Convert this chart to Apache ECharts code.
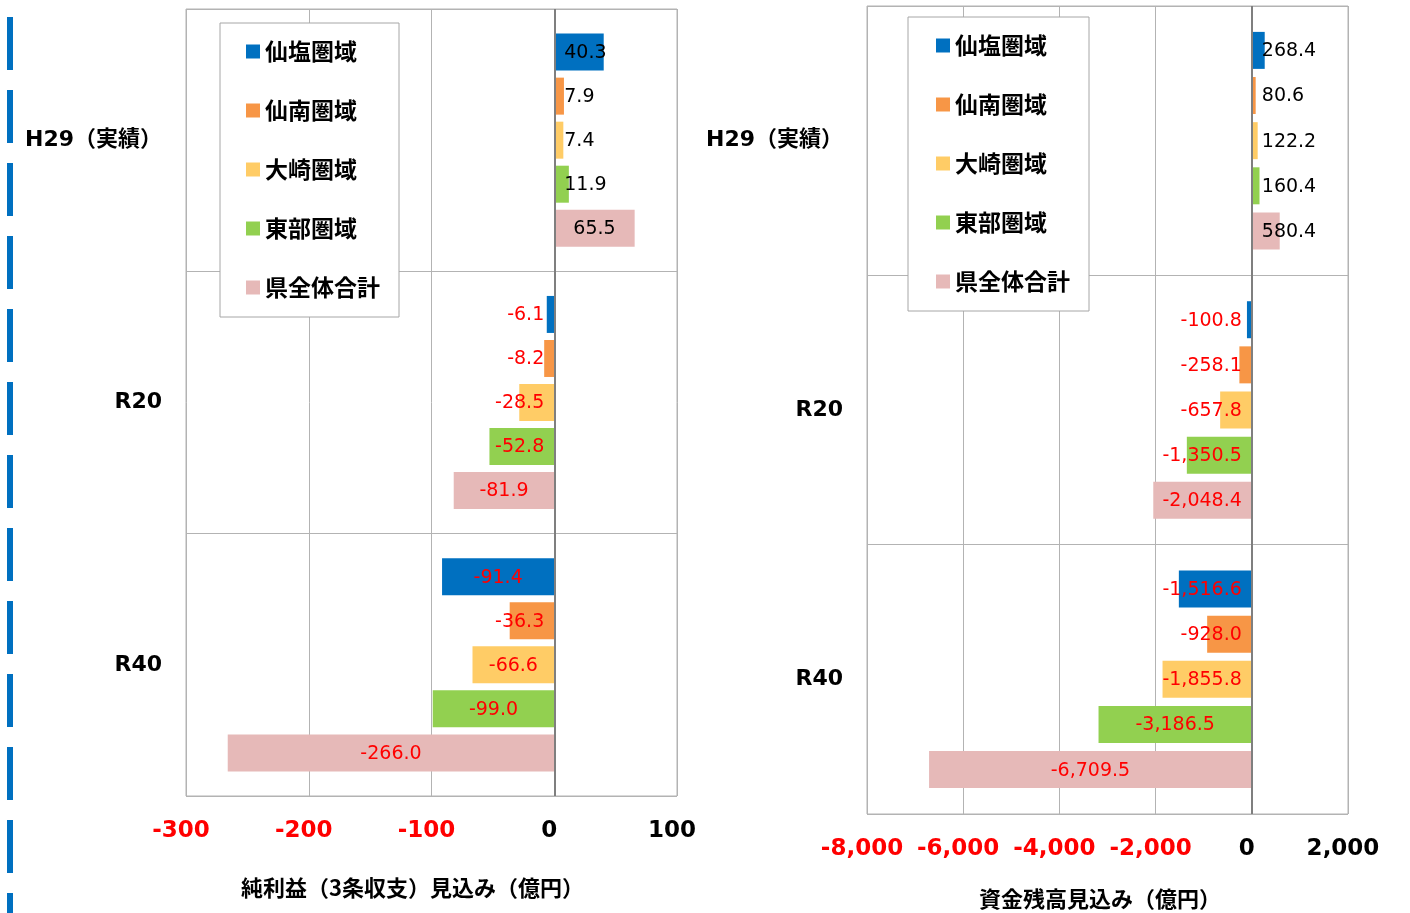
<!DOCTYPE html>
<html>
<head>
<meta charset="utf-8">
<script src="https://cdn.jsdelivr.net/npm/echarts@6/dist/echarts.min.js"></script>
<style>
  html, body { margin: 0; padding: 0; background: #fff; }
  #main { width: 1410px; height: 913px; }
</style>
</head>
<body>
<div id="main"></div>
<script>
// categories (top to bottom) and region names
var categories = ["H29（実績）", "R20", "R40"];
var regionNames = ["仙塩圏域", "仙南圏域", "大崎圏域", "東部圏域", "県全体合計"];
var regionColors = ["#0070C0", "#F79646", "#FFCC66", "#92D050", "#E6B9B8"];

// 純利益（3条収支）見込み（億円）
var profitSenen = [40.3, -6.1, -91.4];
var profitSennan = [7.9, -8.2, -36.3];
var profitOsaki = [7.4, -28.5, -66.6];
var profitTobu = [11.9, -52.8, -99.0];
var profitTotal = [65.5, -81.9, -266.0];

// 資金残高見込み（億円）
var fundSenen = [268.4, -100.8, -1516.6];
var fundSennan = [80.6, -258.1, -928.0];
var fundOsaki = [122.2, -657.8, -1855.8];
var fundTobu = [160.4, -1350.5, -3186.5];
var fundTotal = [580.4, -2048.4, -6709.5];

var profitTicks = { min: -300, max: 100, interval: 100 };
var fundTicks = { min: -8000, max: 2000, interval: 2000 };

var LABEL_FONT = '"DejaVu Sans", "Noto Sans CJK JP", sans-serif';
var CJK_FONT = '"Noto Sans CJK JP", "DejaVu Sans", sans-serif';

var chart = echarts.init(document.getElementById("main"));

// left / right plot areas
var gridL = { left: 186, top: 9, width: 491, height: 787 };
var gridR = { left: 867, top: 6, width: 481, height: 808 };

var cv = document.createElement("canvas").getContext("2d");
function textWidth(s) {
  cv.font = "19px " + LABEL_FONT;
  return cv.measureText(s).width;
}
function fmt1(v) {
  return v.toLocaleString("en-US", { minimumFractionDigits: 1, maximumFractionDigits: 1 });
}
function fmtTick(v) {
  return v.toLocaleString("en-US");
}

// label sits centred when the bar is long enough, otherwise hugs the zero side
function makeData(values, ticks, grid) {
  var pxPerUnit = grid.width / (ticks.max - ticks.min);
  return values.map(function (v) {
    var txt = fmt1(v);
    var len = Math.abs(v) * pxPerUnit;
    var pos = len > textWidth(txt) + 24 ? "inside" : v >= 0 ? "insideLeft" : "insideRight";
    return {
      value: v,
      label: {
        position: pos,
        distance: 10,
        color: v < 0 ? "#FF0000" : "#000000"
      }
    };
  });
}

function makeSeries(lists, ticks, grid, axisIndex, barW, gap) {
  return lists.map(function (vals, i) {
    var s = {
      name: regionNames[i],
      type: "bar",
      xAxisIndex: axisIndex,
      yAxisIndex: axisIndex,
      barWidth: barW,
      barGap: gap,
      itemStyle: { color: regionColors[i] },
      label: {
        show: true,
        fontFamily: LABEL_FONT,
        fontSize: 19,
        offset: [0, 1],
        formatter: function (p) { return fmt1(p.value); }
      },
      data: makeData(vals, ticks, grid)
    };
    if (i === 0) {
      s.markLine = {
        silent: true,
        symbol: ["none", "none"],
        label: { show: false },
        lineStyle: { color: "#7f7f7f", width: 2, type: "solid" },
        data: [{ xAxis: 0 }]
      };
    }
    return s;
  });
}

function xAxisFor(ticks, idx, name, nameGap, shift) {
  return {
    type: "value",
    gridIndex: idx,
    min: ticks.min,
    max: ticks.max,
    interval: ticks.interval,
    axisLine: { show: false },
    axisTick: { show: false },
    splitLine: { show: true, lineStyle: { color: "#b3b3b3", width: 1 } },
    axisLabel: {
      margin: 24,
      formatter: function (v) {
        return v < 0 ? "{n|" + fmtTick(v) + "}" : "{p|" + fmtTick(v) + "}";
      },
      rich: {
        n: { color: "#FF0000", fontSize: 23, fontWeight: "bold", fontFamily: LABEL_FONT, padding: [0, 10, 0, 0] },
        p: { color: "#000000", fontSize: 23, fontWeight: "bold", fontFamily: LABEL_FONT, padding: [0, 10, 0, 0] }
      }
    },
    name: name,
    nameLocation: "middle",
    nameGap: nameGap,
    nameTextStyle: {
      color: "#000",
      fontSize: 22,
      fontWeight: "bold",
      fontFamily: CJK_FONT,
      padding: [0, shift, 0, 0]
    }
  };
}

function yAxisFor(idx) {
  return {
    type: "category",
    gridIndex: idx,
    inverse: true,
    data: categories,
    axisLine: { show: false },
    axisTick: { show: false },
    splitLine: { show: true, lineStyle: { color: "#b3b3b3", width: 1 } },
    axisLabel: {
      margin: 24,
      color: "#000",
      fontSize: 22,
      fontWeight: "bold",
      fontFamily: LABEL_FONT,
      padding: [4, 0, 0, 0]
    }
  };
}

function legendFor(left, top, padLeft) {
  return {
    data: regionNames,
    orient: "vertical",
    left: left,
    top: top,
    icon: "rect",
    itemWidth: 14,
    itemHeight: 14,
    itemGap: 36,
    padding: [17, 19, 18, padLeft],
    backgroundColor: "#fff",
    borderColor: "#a6a6a6",
    borderWidth: 1,
    textStyle: {
      color: "#000",
      fontSize: 23,
      fontWeight: "bold",
      fontFamily: CJK_FONT,
      lineHeight: 23
    }
  };
}

var option = {
  animation: false,
  backgroundColor: "#fff",
  grid: [
    Object.assign({ show: true, borderColor: "#b3b3b3", borderWidth: 1, containLabel: false, outerBoundsMode: "none" }, gridL),
    Object.assign({ show: true, borderColor: "#b3b3b3", borderWidth: 1, containLabel: false, outerBoundsMode: "none" }, gridR)
  ],
  legend: [legendFor(220, 23, 26), legendFor(908, 17, 28)],
  xAxis: [
    xAxisFor(profitTicks, 0, "純利益（3条収支）見込み（億円）", 81, 38),
    xAxisFor(fundTicks, 1, "資金残高見込み（億円）", 74, 15)
  ],
  yAxis: [yAxisFor(0), yAxisFor(1)],
  graphic: [
    {
      type: "line",
      shape: { x1: 10, y1: 17, x2: 10, y2: 913 },
      style: { stroke: "#0070C0", lineWidth: 6, lineDash: [53, 20] }
    }
  ],
  series: makeSeries([profitSenen, profitSennan, profitOsaki, profitTobu, profitTotal], profitTicks, gridL, 0, 37, "19%")
    .concat(makeSeries([fundSenen, fundSennan, fundOsaki, fundTobu, fundTotal], fundTicks, gridR, 1, 37, "22%"))
};

chart.setOption(option);
</script>
</body>
</html>
